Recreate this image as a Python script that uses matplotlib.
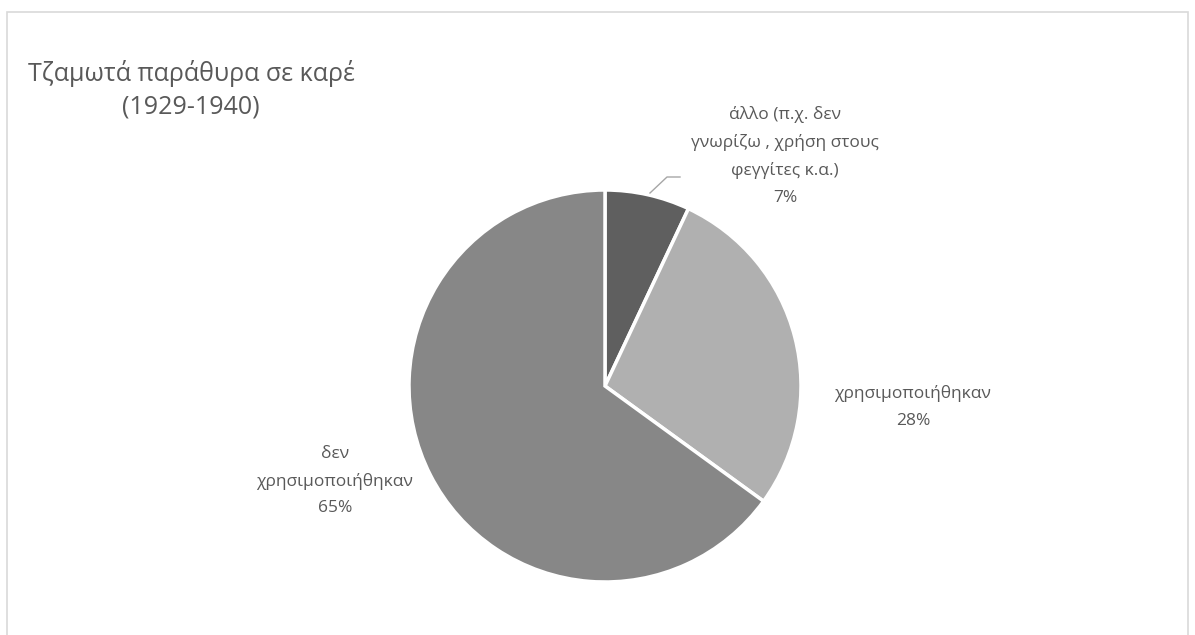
import matplotlib.pyplot as plt
from matplotlib.patches import Rectangle

# data
labels = ['άλλο (π.χ. δεν\nγνωρίζω , χρήση στους\nφεγγίτες κ.α.)', 'χρησιμοποιήθηκαν', 'δεν\nχρησιμοποιήθηκαν']
values = [7, 28, 65]
colors = ['#5f5f5f', '#b0b0b0', '#878787']

W, H = 1195, 635
fig = plt.figure(figsize=(W / 100, H / 100), dpi=100)
plt.rcParams['font.family'] = ['Open Sans', 'DejaVu Sans']
txt = '#595959'

# chart frame (bottom edge cut off in the original)
fig.patches.append(Rectangle((7 / W, -0.1), (1188 - 7) / W, (H - 12) / H + 0.1,
                             transform=fig.transFigure, fill=False,
                             edgecolor='#d9d9d9', linewidth=1.2))

cx, cy, r = 605, 386, 196
ax = fig.add_axes([(cx - r) / W, (H - cy - r) / H, 2 * r / W, 2 * r / H])
ax.pie(values, colors=colors, startangle=90, counterclock=False,
       wedgeprops=dict(edgecolor='white', linewidth=2.5))
ax.set_xlim(-1, 1)
ax.set_ylim(-1, 1)
ax.set_aspect('equal')

fig.text(191 / W, 1 - 90 / H, 'Τζαμωτά παράθυρα σε καρέ\n(1929-1940)',
         ha='center', va='center', fontsize=18, color=txt, linespacing=1.4)

lab_pos = [(785, 156), (913, 407), (335, 481)]
for lab, v, (x, y) in zip(labels, values, lab_pos):
    fig.text(x / W, 1 - y / H, f'{lab}\n{v}%', ha='center', va='center',
             fontsize=12.5, color=txt, linespacing=1.85)

# leader line for the small slice
fig.add_artist(plt.Line2D([650 / W, 667 / W, 680 / W],
                          [1 - 193 / H, 1 - 177 / H, 1 - 177 / H],
                          color='#a6a6a6', linewidth=1))

fig.savefig('out.png', dpi=100)
